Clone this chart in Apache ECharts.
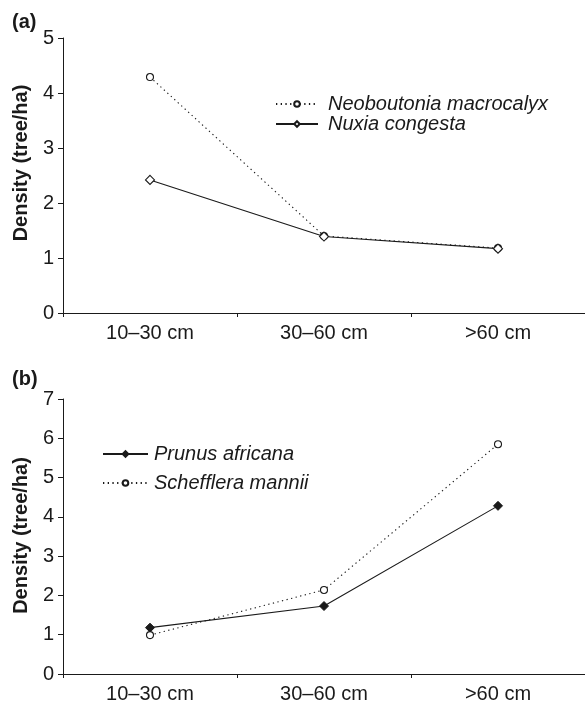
<!DOCTYPE html>
<html>
<head>
<meta charset="utf-8">
<script src="https://cdn.jsdelivr.net/npm/echarts@6/dist/echarts.min.js"></script>
<style>html,body{margin:0;padding:0;background:#fff;}#c{width:585px;height:705px;}</style>
</head>
<body>
<div id="c"></div>
<script>
const categories = ['10\u201330 cm', '30\u201360 cm', '>60 cm'];
const neoboutonia = [4.29, 1.40, 1.18];
const nuxia = [2.42, 1.39, 1.17];
const prunus = [1.18, 1.73, 4.28];
const schefflera = [0.99, 2.14, 5.85];
const yTicksA = [0, 5, 1];
const yTicksB = [0, 7, 1];

const FONT = 'Liberation Sans, Arial, Helvetica, sans-serif';
const INK = '#1a1a1a';
const FS = 20;
const chart = echarts.init(document.getElementById('c'), null, {renderer: 'canvas'});

function xAxis(gi) {
  return {
    type: 'category', gridIndex: gi, data: categories, boundaryGap: true,
    axisLine: {lineStyle: {color: INK, width: 1}},
    axisTick: {show: true, length: 4, lineStyle: {color: INK}},
    axisLabel: {color: INK, fontFamily: FONT, fontSize: FS, margin: 10},
    splitLine: {show: false}
  };
}
function yAxis(gi, t, namePad) {
  return {
    type: 'value', gridIndex: gi, min: t[0], max: t[1], interval: t[2],
    name: 'Density (tree/ha)', nameLocation: 'middle', nameRotate: 90, nameGap: 28,
    nameTextStyle: {color: INK, fontFamily: FONT, fontSize: FS, fontWeight: 'bold', padding: namePad},
    axisLine: {show: true, lineStyle: {color: INK, width: 1}},
    axisTick: {show: true, length: 5, lineStyle: {color: INK}},
    axisLabel: {color: INK, fontFamily: FONT, fontSize: FS, margin: 9},
    splitLine: {show: false}
  };
}
const dotted = {color: INK, width: 1.1, type: [1.3, 3.4]};
const solid = {color: INK, width: 1.1, type: 'solid'};
const legendText = {fontFamily: FONT, fontSize: FS, fontStyle: 'italic', color: INK, lineHeight: 18};

chart.setOption({
  animation: false,
  backgroundColor: '#fff',
  title: [
    {text: '(a)', left: 12, top: 12, padding: 0, textStyle: {fontFamily: FONT, fontSize: FS, fontWeight: 'bold', color: INK}},
    {text: '(b)', left: 12, top: 369, padding: 0, textStyle: {fontFamily: FONT, fontSize: FS, fontWeight: 'bold', color: INK}}
  ],
  grid: [
    {left: 63, top: 38, width: 522, height: 275},
    {left: 63, top: 399, width: 522, height: 275}
  ],
  xAxis: [xAxis(0), xAxis(1)],
  yAxis: [yAxis(0, yTicksA, [0, 0, 0, 25]), yAxis(1, yTicksB, [0, 0, 0, 2])],
  legend: [
    {
      data: ['Neoboutonia macrocalyx', 'Nuxia congesta'], orient: 'vertical',
      left: 270, top: 89, itemWidth: 42, itemHeight: 7, itemGap: 0,
      textStyle: Object.assign({padding: [0, 0, 0, 5]}, legendText)
    },
    {
      data: ['Prunus africana', 'Schefflera mannii'], orient: 'vertical',
      left: 97, top: 439, itemWidth: 45, itemHeight: 7, itemGap: 9,
      textStyle: Object.assign({padding: [0, 0, 0, 1]}, legendText)
    }
  ],
  series: [
    {name: 'Neoboutonia macrocalyx', type: 'line', xAxisIndex: 0, yAxisIndex: 0, data: neoboutonia,
      symbol: 'circle', symbolSize: 7, lineStyle: dotted,
      itemStyle: {color: '#fff', borderColor: INK, borderWidth: 1.1}},
    {name: 'Nuxia congesta', type: 'line', xAxisIndex: 0, yAxisIndex: 0, data: nuxia,
      symbol: 'diamond', symbolSize: 9, lineStyle: solid,
      itemStyle: {color: '#fff', borderColor: INK, borderWidth: 1.1}},
    {name: 'Prunus africana', type: 'line', xAxisIndex: 1, yAxisIndex: 1, data: prunus,
      symbol: 'diamond', symbolSize: 9, lineStyle: solid,
      itemStyle: {color: INK, borderColor: INK, borderWidth: 1}},
    {name: 'Schefflera mannii', type: 'line', xAxisIndex: 1, yAxisIndex: 1, data: schefflera,
      symbol: 'circle', symbolSize: 7, lineStyle: dotted,
      itemStyle: {color: '#fff', borderColor: INK, borderWidth: 1.1}}
  ]
});
</script>
</body>
</html>
